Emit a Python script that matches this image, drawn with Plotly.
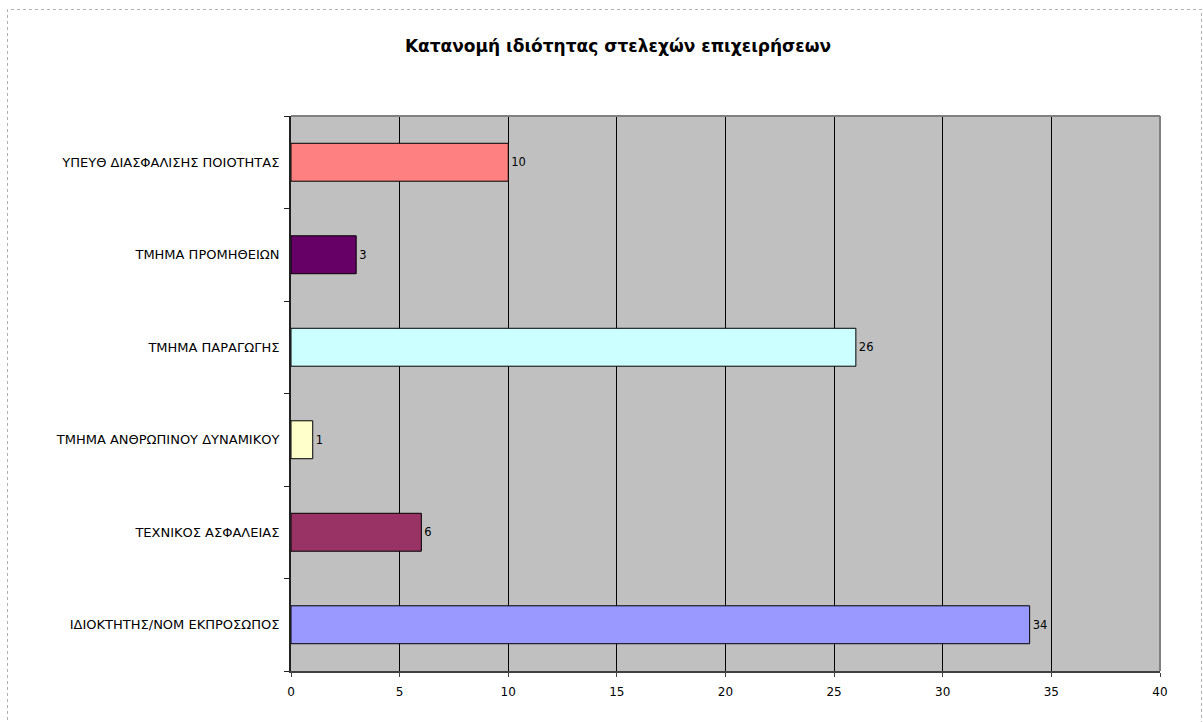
import plotly.graph_objects as go

categories = [
    "ΙΔΙΟΚΤΗΤΗΣ/ΝΟΜ ΕΚΠΡΟΣΩΠΟΣ",
    "ΤΕΧΝΙΚΟΣ ΑΣΦΑΛΕΙΑΣ",
    "ΤΜΗΜΑ ΑΝΘΡΩΠΙΝΟΥ ΔΥΝΑΜΙΚΟΥ",
    "ΤΜΗΜΑ ΠΑΡΑΓΩΓΗΣ",
    "ΤΜΗΜΑ ΠΡΟΜΗΘΕΙΩΝ",
    "ΥΠΕΥΘ ΔΙΑΣΦΑΛΙΣΗΣ ΠΟΙΟΤΗΤΑΣ",
]
values = [34, 6, 1, 26, 3, 10]
colors = ["#9999FF", "#993366", "#FFFFCC", "#CCFFFF", "#660066", "#FF8080"]
x_ticks = [0, 5, 10, 15, 20, 25, 30, 35, 40]
title = "Κατανομή ιδιότητας στελεχών επιχειρήσεων"

FONT = "Verdana, DejaVu Sans, sans-serif"

W, H = 1203, 722
L, R, T, B = 291, 43, 116, 51
pw = W - L - R
ph = H - T - B

fig = go.Figure()
fig.add_trace(go.Bar(
    y=categories, x=values, orientation="h",
    marker=dict(color=colors, line=dict(color="black", width=1)),
    width=0.41,
    text=[str(v) for v in values], textposition="outside",
    textfont=dict(family=FONT, size=11.5, color="black"),
    cliponaxis=False,
    hoverinfo="skip",
))

def px_to_paper_x(px):
    return (px - L) / pw

def py_to_paper_y(py):
    return (H - B - py) / ph

fig.update_layout(
    width=W, height=H,
    margin=dict(l=L, r=R, t=T, b=B),
    paper_bgcolor="white",
    plot_bgcolor="#C0C0C0",
    showlegend=False,
    font=dict(family=FONT, size=12, color="black"),
    title=dict(text="<b>" + title + "</b>", x=618 / W, xanchor="center",
               y=1 - 46 / H, yanchor="middle",
               font=dict(family=FONT, size=17, color="black")),
    xaxis=dict(range=[0, 40], tickvals=x_ticks, ticktext=[str(t) for t in x_ticks],
               showgrid=True, gridcolor="black", gridwidth=1,
               zeroline=False, showline=True, linecolor="#404040", linewidth=2,
               ticks="outside", ticklen=4, tickcolor="#404040", ticklabelstandoff=5,
               tickfont=dict(family=FONT, size=12, color="black"), fixedrange=True),
    yaxis=dict(categoryorder="array", categoryarray=categories,
               showgrid=False, zeroline=False, showline=True, linecolor="#202020", linewidth=2,
               ticks="outside", ticklen=5, tickson="boundaries", tickcolor="#202020",
               tickfont=dict(family=FONT, size=13, color="black"), ticklabelstandoff=7,
               fixedrange=True),
    shapes=[
        dict(type="line", xref="paper", yref="paper", x0=0, x1=1, y0=1, y1=1,
             line=dict(color="#808080", width=2)),
        dict(type="line", xref="paper", yref="paper", x0=1, x1=1, y0=0, y1=1,
             line=dict(color="#808080", width=2)),
        dict(type="rect", xref="paper", yref="paper",
             x0=px_to_paper_x(7.5), x1=px_to_paper_x(1201.5),
             y0=py_to_paper_y(730), y1=py_to_paper_y(9.5),
             line=dict(color="#B0B0B0", width=1, dash="dot")),
    ],
)

fig.write_html("out.html",
               config={"displayModeBar": False},
               post_script="document.body.style.margin='0px';document.body.style.overflow='hidden';")
